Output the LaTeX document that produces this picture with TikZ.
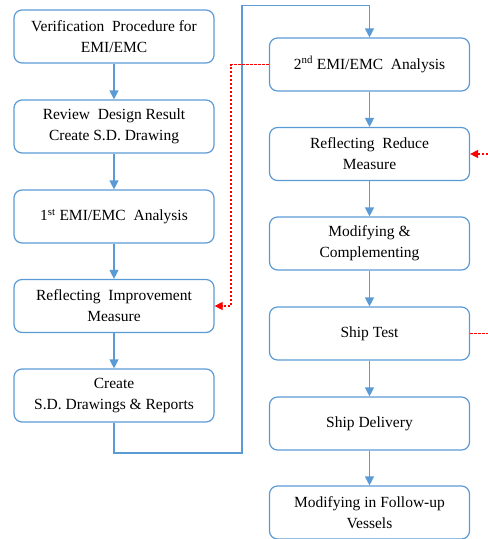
\documentclass[tikz,border=0pt]{standalone}
\usepackage{fontspec}
\setmainfont{Liberation Serif}
\usetikzlibrary{arrows.meta}
\definecolor{boxblue}{RGB}{91,155,213}
\begin{document}
\begin{tikzpicture}[x=1pt,y=-1pt,
  procbox/.style={draw=boxblue,line width=1.2pt,rounded corners=8pt,fill=white,
    minimum width=200pt,minimum height=53pt,align=center,inner sep=2pt,
    font=\fontsize{15.5}{21}\selectfont},
  flow/.style={draw=boxblue,line width=1.3pt,-{Triangle[width=9pt,length=9pt]}},
  fb/.style={draw=red,line width=1.2pt,dashed,dash pattern=on 2.5pt off 1.5pt},
  fbarrow/.style={fb,-{Triangle[width=8pt,length=8pt]}}]
\useasboundingbox (0,0) rectangle (488,539);
\node[procbox] (b1) at (114,36.5) {Verification\ \ Procedure for\\EMI/EMC};
\node[procbox] (b2) at (114,126.5) {Review\ \ Design Result\\Create S.D. Drawing};
\node[procbox] (b3) at (114,216.5) {1\textsuperscript{st} EMI/EMC\ \ Analysis};
\node[procbox] (b4) at (114,306) {Reflecting\ \ Improvement\\Measure};
\node[procbox] (b5) at (114,395.5) {Create\\S.D. Drawings \& Reports};
\node[procbox] (b6) at (369.5,64.5) {2\textsuperscript{nd} EMI/EMC\ \ Analysis};
\node[procbox] (b7) at (369.5,154) {Reflecting\ \ Reduce\\Measure};
\node[procbox] (b8) at (369.5,243.5) {Modifying \&\\Complementing};
\node[procbox] (b9) at (369.5,333.5) {Ship Test};
\node[procbox] (b10) at (369.5,423.5) {Ship Delivery};
\node[procbox] (b11) at (369.5,512.5) {Modifying in Follow-up\\Vessels};
\coordinate (c1) at (114,453);
\coordinate (c2) at (242,453);
\coordinate (c3) at (242,5.5);
\coordinate (c4) at (369.5,5.5);
\coordinate (r1) at (231,0);
\coordinate (edge) at (488,0);
\draw[flow] (b1) -- (b2);
\draw[flow] (b2) -- (b3);
\draw[flow] (b3) -- (b4);
\draw[flow] (b4) -- (b5);
\draw[flow] (b5.south) -- (c1) -- (c2) -- (c3) -- (c4) -- (b6.north);
\draw[flow] (b6) -- (b7);
\draw[flow] (b7) -- (b8);
\draw[flow] (b8) -- (b9);
\draw[flow] (b9) -- (b10);
\draw[flow] (b10) -- (b11);
\draw[fbarrow] (b6.west) -- (r1 |- b6.west) -- (r1 |- b4.east) -- (b4.east);
\draw[fbarrow] (edge |- b7.east) -- (b7.east);
\draw[fb] (b9.east) -- (edge |- b9.east);
\end{tikzpicture}
\end{document}
